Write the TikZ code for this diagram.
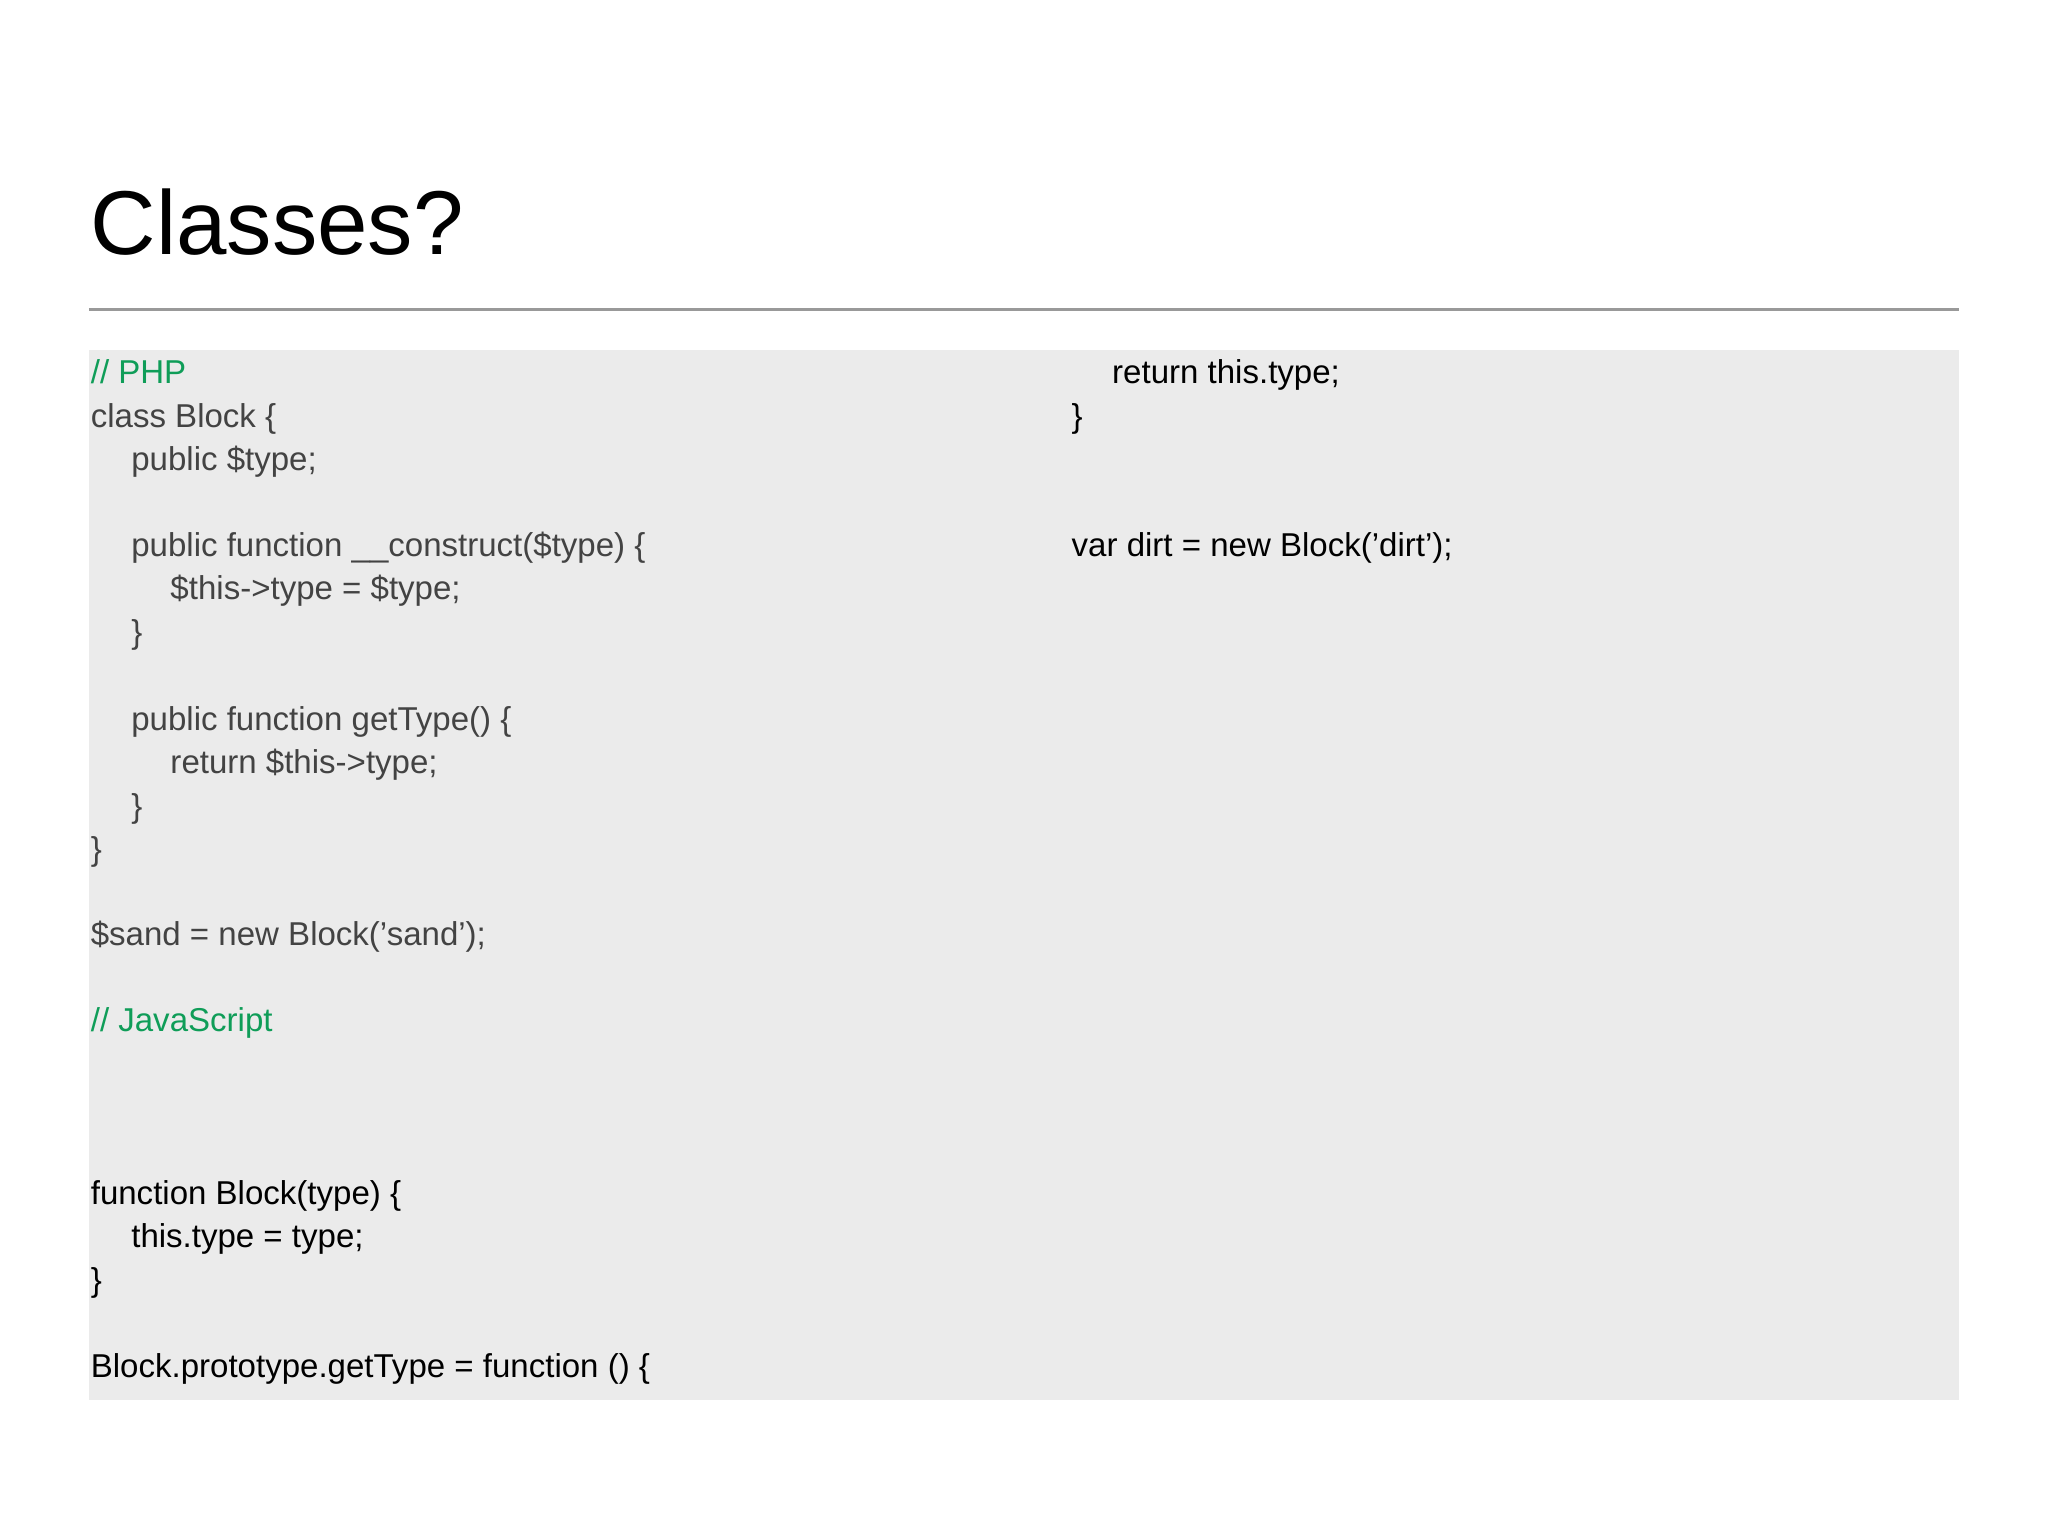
\documentclass[tikz,border=0pt]{standalone}
\usepackage{fontspec}
\setmainfont{Liberation Sans}
\definecolor{cgreen}{HTML}{0F9D58}
\definecolor{cgrey}{HTML}{434343}
\definecolor{boxbg}{HTML}{EBEBEB}
\begin{document}
\begin{tikzpicture}[x={(0.01306cm,0)},y={(0,-0.01306cm)},
  code/.style={anchor=base west,inner sep=0pt,font=\fontsize{9.4pt}{11pt}\selectfont},
  php/.style={code,text=cgrey},
  js/.style={code,text=black},
  cmt/.style={code,text=cgreen}]
\useasboundingbox (0,0) rectangle (1568,1176);
\fill[white] (0,0) rectangle (1568,1176);
\node[anchor=base west,inner sep=0pt,font=\fontsize{25.8pt}{30pt}\selectfont] (title) at (69,195) {Classes?};
\coordinate (r1) at (68,237); \coordinate (r2) at (1500,237);
\draw[gray!80,line width=0.6pt] (r1) -- (r2);
\fill[boxbg] (68,268) rectangle (1500,1072);
\node[cmt] (l1) at (69,294) {// PHP};
\node[php] (l2) at (69,327) {class Block \{};
\node[php] (l3) at (100,360) {public \$type;};
\node[php] (l4) at (100,426) {public function \_\_construct(\$type) \{};
\node[php] (l5) at (130,459) {\$this->type = \$type;};
\node[php] (l6) at (100,493) {\}};
\node[php] (l7) at (100,559) {public function getType() \{};
\node[php] (l8) at (130,592) {return \$this->type;};
\node[php] (l9) at (100,626) {\}};
\node[php] (l10) at (69,659) {\}};
\node[php] (l11) at (69,724) {\$sand = new Block('sand');};
\node[cmt] (l12) at (69,790) {// JavaScript};
\node[js] (l13) at (69,922) {function Block(type) \{};
\node[js] (l14) at (100,955) {this.type = type;};
\node[js] (l15) at (69,989) {\}};
\node[js] (l16) at (69,1055) {Block.prototype.getType = function () \{};
\node[js] (r1t) at (851,294) {return this.type;};
\node[js] (r2t) at (820,327) {\}};
\node[js] (r3t) at (820,426) {var dirt = new Block('dirt');};
\end{tikzpicture}
\end{document}
